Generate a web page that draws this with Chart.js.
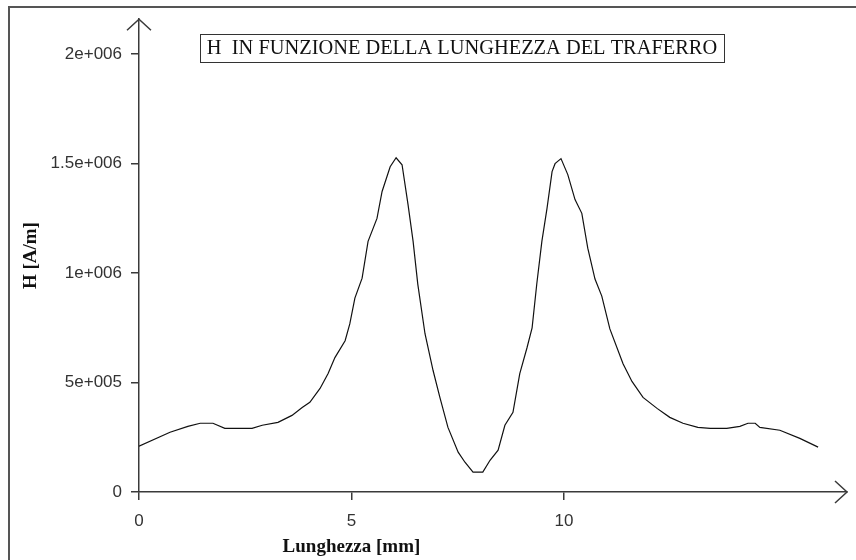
<!DOCTYPE html>
<html>
<head>
<meta charset="utf-8">
<script src="https://cdn.jsdelivr.net/npm/chart.js@4/dist/chart.umd.min.js"></script>
<style>
  html, body { margin: 0; padding: 0; background: #fff; }
  #wrap { width: 856px; height: 560px; }
</style>
</head>
<body>
<div id="wrap"><canvas id="chart" width="856" height="560"></canvas></div>
<script>
// dati (lunghezza in mm, H in A/m)
const lengthMm = [0, 0.73, 1.15, 1.44, 1.74, 2.02, 2.66, 2.9, 3.27, 3.6, 3.84, 4.02, 4.26, 4.45, 4.61, 4.85, 4.96, 5.08, 5.25, 5.39, 5.6, 5.72, 5.91, 6.05, 6.19, 6.33, 6.45, 6.56, 6.73, 6.92, 7.08, 7.27, 7.51, 7.67, 7.86, 8.09, 8.26, 8.45, 8.61, 8.8, 8.96, 9.13, 9.25, 9.36, 9.48, 9.6, 9.72, 9.79, 9.93, 10.09, 10.26, 10.42, 10.56, 10.73, 10.89, 11.08, 11.39, 11.6, 11.86, 12.19, 12.49, 12.8, 13.15, 13.44, 13.83, 14.14, 14.33, 14.5, 14.61, 15.08, 15.55, 15.98];
const hField = [209000, 273000, 300000, 314000, 314000, 291000, 291000, 305000, 318000, 350000, 386000, 410000, 473000, 541000, 614000, 691000, 768000, 886000, 977000, 1145000, 1250000, 1373000, 1486000, 1527000, 1495000, 1314000, 1145000, 950000, 723000, 555000, 432000, 295000, 182000, 136000, 91000, 91000, 145000, 191000, 305000, 364000, 541000, 659000, 750000, 950000, 1145000, 1295000, 1464000, 1500000, 1523000, 1450000, 1336000, 1273000, 1114000, 973000, 895000, 745000, 586000, 505000, 432000, 382000, 341000, 314000, 295000, 291000, 291000, 300000, 314000, 314000, 295000, 282000, 245000, 205000];
const xTicks = [0, 5, 10];
const yTicks = [0, 500000, 1000000, 1500000, 2000000];
const chartTitle = 'H  IN FUNZIONE DELLA LUNGHEZZA DEL TRAFERRO';
const xLabel = 'Lunghezza [mm]';
const yLabel = 'H [A/m]';

const AXIS = '#3a3a3a';

// formato tipo "1.5e+006"
function expLabel(v) {
  if (v === 0) return '0';
  const [m, e] = v.toExponential().split('e');
  const sign = e[0];
  return m + 'e' + sign + e.slice(1).padStart(3, '0');
}

const decor = {
  id: 'decor',
  afterDraw(chart) {
    const ctx = chart.ctx;
    const x = chart.scales.x, y = chart.scales.y;
    const x0 = x.left, yb = y.bottom;
    ctx.save();
    // cornice esterna
    ctx.strokeStyle = '#555';
    ctx.lineWidth = 2;
    ctx.strokeRect(9, 7, 900, 600);
    // frecce degli assi
    ctx.strokeStyle = AXIS;
    ctx.lineWidth = 1.5;
    ctx.beginPath();
    ctx.moveTo(x0 - 12, y.top + 11);
    ctx.lineTo(x0, y.top);
    ctx.lineTo(x0 + 12, y.top + 11);
    ctx.moveTo(x.right - 12, yb - 11);
    ctx.lineTo(x.right, yb);
    ctx.lineTo(x.right - 12, yb + 11);
    ctx.stroke();
    // riquadro del titolo
    ctx.fillStyle = '#fff';
    ctx.fillRect(200, 34, 524, 28);
    ctx.strokeStyle = '#333';
    ctx.lineWidth = 1;
    ctx.strokeRect(200.5, 34.5, 524, 28);
    ctx.fillStyle = '#111';
    ctx.font = '20.4px "Liberation Serif", "Times New Roman", serif';
    ctx.textAlign = 'center';
    ctx.textBaseline = 'middle';
    ctx.fillText(chartTitle, 462, 49);
    // etichetta asse x, centrata sul valore 5
    ctx.font = 'bold 19px "Liberation Serif", "Times New Roman", serif';
    ctx.fillText(xLabel, x.getPixelForValue(5), 547);
    ctx.restore();
  }
};

new Chart(document.getElementById('chart'), {
  type: 'scatter',
  data: {
    datasets: [{
      label: 'H',
      data: lengthMm.map((v, i) => ({ x: v, y: hField[i] })),
      showLine: true,
      borderColor: '#111',
      borderWidth: 1.2,
      pointRadius: 0,
      tension: 0
    }]
  },
  options: {
    responsive: false,
    animation: false,
    events: [],
    parsing: false,
    layout: { padding: { top: 17, right: 9, left: 0, bottom: 0 } },
    plugins: { legend: { display: false }, tooltip: { enabled: false } },
    scales: {
      x: {
        type: 'linear', min: 0, max: 16.66,
        afterBuildTicks: s => { s.ticks = xTicks.map(v => ({ value: v })); },
        afterFit: s => { s.height = 68; },
        grid: { drawOnChartArea: false, drawTicks: true, tickLength: 8, color: AXIS, lineWidth: 1.5 },
        border: { display: true, color: AXIS, width: 1.5 },
        ticks: { color: '#333', padding: 11, maxRotation: 0, font: { family: '"Liberation Sans", Arial, sans-serif', size: 17 } }
      },
      y: {
        type: 'linear', min: 0, max: 2160000,
        afterBuildTicks: s => { s.ticks = yTicks.map(v => ({ value: v })); },
        afterFit: s => { s.width = 139; },
        grid: { drawOnChartArea: false, drawTicks: true, tickLength: 8, color: AXIS, lineWidth: 1.5 },
        border: { display: true, color: AXIS, width: 1.5 },
        ticks: { color: '#333', padding: 9, callback: v => expLabel(v), font: { family: '"Liberation Sans", Arial, sans-serif', size: 17 } },
        title: { display: true, text: yLabel, color: '#111', padding: { top: 20 }, font: { family: '"Liberation Serif", "Times New Roman", serif', size: 19, weight: 'bold' } }
      }
    }
  },
  plugins: [decor]
});
</script>
</body>
</html>
